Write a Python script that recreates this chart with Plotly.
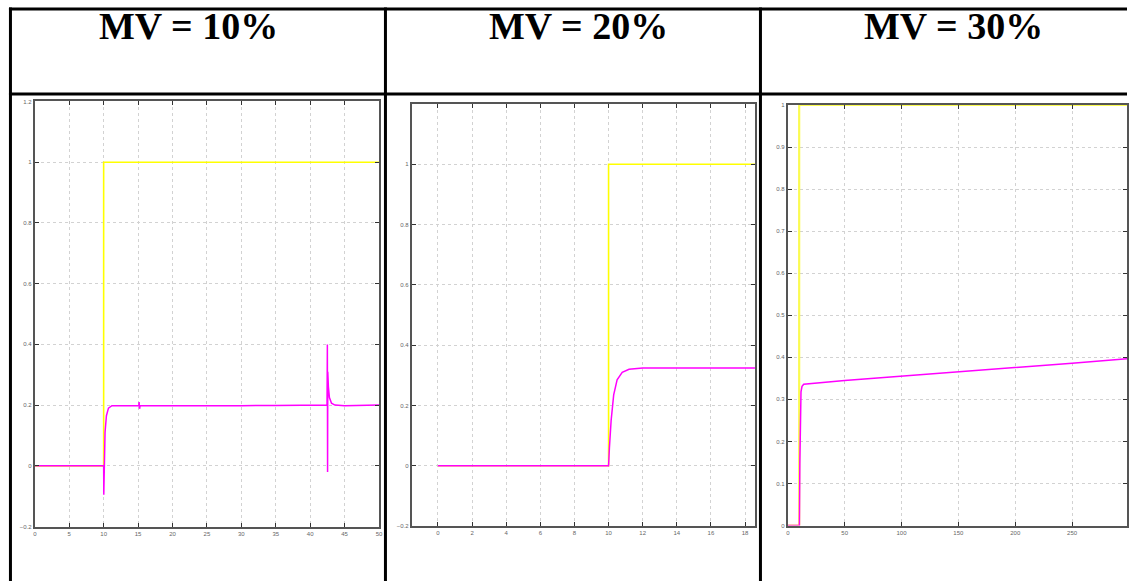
import plotly.graph_objects as go

W, H = 1131, 584

# ---------------- data ----------------
titles = ["MV = 10%", "MV = 20%", "MV = 30%"]

# Panel 1 (MV = 10%)
sp1_t = [0, 10, 10, 50]
sp1_y = [0, 0, 1, 1]
pv1_t = [0, 10.0, 10.02, 10.06, 10.2, 10.4, 10.7, 11.2, 15.1, 15.15, 15.22, 15.3, 20, 25, 30, 35,
         40, 42.45, 42.5, 42.53, 42.56, 42.65, 42.8, 43.1, 43.6, 45, 47, 50]
pv1_y = [0, 0.0, -0.095, 0.02, 0.11, 0.165, 0.19, 0.198, 0.198, 0.21, 0.188, 0.199, 0.198, 0.199, 0.198, 0.199,
         0.199, 0.2, 0.40, -0.02, 0.31, 0.26, 0.225, 0.206, 0.2, 0.198, 0.199, 0.2]

# Panel 2 (MV = 20%)
sp2_t = [0, 10, 10, 18.58]
sp2_y = [0, 0, 1, 1]
pv2_t = [0, 10.0, 10.05, 10.15, 10.3, 10.5, 10.8, 11.2, 12, 14, 16, 18.58]
pv2_y = [0, 0.0, 0.06, 0.15, 0.235, 0.285, 0.31, 0.32, 0.324, 0.324, 0.324, 0.324]

# Panel 3 (MV = 30%)
sp3_t = [0, 10, 10, 300]
sp3_y = [0, 0, 1, 1]
pv3_t = [0, 10.2, 10.6, 11.0, 11.6, 12.5, 14, 50, 100, 150, 200, 250, 300]
pv3_y = [0, 0.0, 0.15, 0.28, 0.318, 0.331, 0.336, 0.345, 0.355, 0.365, 0.376, 0.386, 0.397]

x1_ticks = [0, 5, 10, 15, 20, 25, 30, 35, 40, 45, 50]
y1_ticks = [-0.2, 0, 0.2, 0.4, 0.6, 0.8, 1, 1.2]
x2_ticks = [0, 2, 4, 6, 8, 10, 12, 14, 16, 18]
y2_ticks = [-0.2, 0, 0.2, 0.4, 0.6, 0.8, 1]
x3_ticks = [0, 50, 100, 150, 200, 250, 300]
y3_ticks = [0, 0.1, 0.2, 0.3, 0.4, 0.5, 0.6, 0.7, 0.8, 0.9, 1]

YELLOW = "#ffff00"
MAGENTA = "#ff00ff"


def px(x):
    return x / W


def py(y):
    return 1 - y / H


fig = go.Figure()

panels = [
    (sp1_t, sp1_y, pv1_t, pv1_y, "x", "y"),
    (sp2_t, sp2_y, pv2_t, pv2_y, "x2", "y2"),
    (sp3_t, sp3_y, pv3_t, pv3_y, "x3", "y3"),
]
for i, (st, sy, pt, pyv, xa, ya) in enumerate(panels):
    fig.add_trace(go.Scatter(x=st, y=sy, mode="lines", xaxis=xa, yaxis=ya,
                             line=dict(color=YELLOW if i < 2 else "#fbfb50", width=1.6 if i < 2 else 2.2),
                             showlegend=False, hoverinfo="skip"))
    fig.add_trace(go.Scatter(x=pt, y=pyv, mode="lines", xaxis=xa, yaxis=ya,
                             line=dict(color=MAGENTA, width=1.5),
                             showlegend=False, hoverinfo="skip"))

axis_common = dict(
    showline=True, linecolor="#555555", linewidth=2, mirror="ticks",
    ticks="inside", ticklen=4, tickwidth=1, tickcolor="#333333",
    showgrid=True, gridcolor="#d2d2d2", griddash="dot", gridwidth=1,
    zeroline=False, tickfont=dict(size=6, color="#666666", family="Arial"),
    fixedrange=True,
)

layout = dict(
    width=W, height=H, margin=dict(l=0, r=0, t=0, b=0),
    paper_bgcolor="white", plot_bgcolor="white",
    xaxis=dict(axis_common, domain=[px(33), px(379)], range=[0, 50], tickvals=x1_ticks, anchor="y"),
    yaxis=dict(axis_common, domain=[py(529), py(99.5)], range=[-0.2, 1.2], tickvals=y1_ticks, anchor="x"),
    xaxis2=dict(axis_common, domain=[px(412), px(757)], range=[-1.53, 18.58], tickvals=x2_ticks, anchor="y2"),
    yaxis2=dict(axis_common, domain=[py(528.5), py(102)], range=[-0.2, 1.2], tickvals=y2_ticks, anchor="x2"),
    xaxis3=dict(axis_common, domain=[px(790), 1.0], range=[0, 298.3], tickvals=x3_ticks, anchor="y3"),
    yaxis3=dict(axis_common, domain=[py(528), py(103)], range=[0, 1], tickvals=y3_ticks, anchor="x3"),
)
fig.update_layout(**layout)

# table lines
shapes = []
line_style = dict(color="black", width=3)
shapes.append(dict(type="line", xref="paper", yref="paper", x0=px(7), x1=1, y0=py(6), y1=py(6), line=line_style))
shapes.append(dict(type="line", xref="paper", yref="paper", x0=px(7), x1=1, y0=py(92), y1=py(92), line=line_style))
for xv in [8.5, 385.5, 762.5]:
    shapes.append(dict(type="line", xref="paper", yref="paper", x0=px(xv), x1=px(xv), y0=py(4.5), y1=0,
                       line=line_style))
fig.update_layout(shapes=shapes)

# header texts
centers = [187, 580, 957]
for t, cx in zip(titles, centers):
    fig.add_annotation(text="<b>" + t + "</b>", x=px(cx), y=py(23.5), xref="paper", yref="paper",
                       xanchor="center", yanchor="middle", showarrow=False,
                       font=dict(family="Liberation Serif, Times New Roman, serif", size=38, color="black"))

fig.write_html("out.html", config={"displayModeBar": False},
               post_script="document.body.style.margin='0';document.body.style.overflow='hidden';")
